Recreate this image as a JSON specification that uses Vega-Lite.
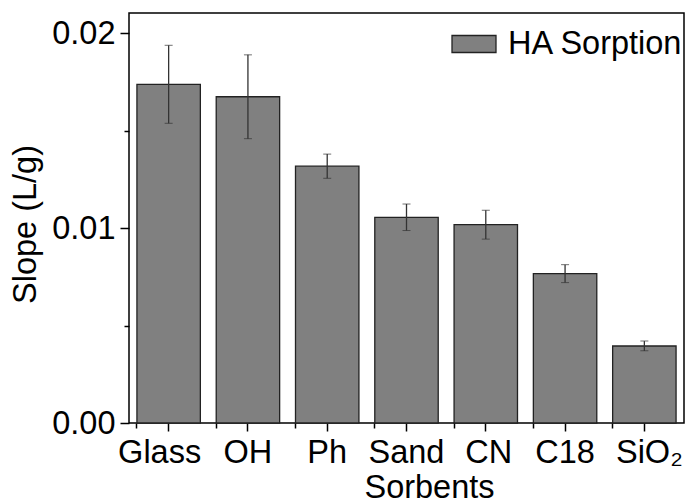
{
  "$schema": "https://vega.github.io/schema/vega-lite/v6.json",
  "width": 555,
  "height": 410,
  "autosize": {"type": "none"},
  "padding": {"left": 129, "top": 13, "right": 2, "bottom": 80},
  "background": "white",
  "config": {
    "font": "Liberation Sans",
    "view": {"stroke": "#000000", "strokeWidth": 1.5},
    "axis": {
      "domain": false,
      "grid": false,
      "tickColor": "#000000",
      "tickWidth": 1.5,
      "labelColor": "#000000",
      "labelFont": "Liberation Sans",
      "labelFontSize": 32.5,
      "titleColor": "#000000",
      "titleFont": "Liberation Sans",
      "titleFontSize": 32.5,
      "titleFontWeight": "normal"
    }
  },
  "data": {
    "values": [
      {"sorbent": "Glass", "slope": 0.01737, "err": 0.00200, "series": "HA Sorption"},
      {"sorbent": "OH", "slope": 0.01673, "err": 0.00215, "series": "HA Sorption"},
      {"sorbent": "Ph", "slope": 0.01317, "err": 0.00062, "series": "HA Sorption"},
      {"sorbent": "Sand", "slope": 0.01055, "err": 0.00068, "series": "HA Sorption"},
      {"sorbent": "CN", "slope": 0.01017, "err": 0.00074, "series": "HA Sorption"},
      {"sorbent": "C18", "slope": 0.00766, "err": 0.00046, "series": "HA Sorption"},
      {"sorbent": "SiO₂", "slope": 0.00395, "err": 0.00025, "series": "HA Sorption"}
    ]
  },
  "resolve": {"axis": {"x": "independent", "y": "independent"}},
  "layer": [
    {
      "mark": {"type": "bar", "stroke": "#222222", "strokeWidth": 1.3},
      "encoding": {
        "x": {
          "field": "sorbent",
          "type": "nominal",
          "sort": null,
          "scale": {"paddingInner": 0.2, "paddingOuter": 0.1},
          "axis": {
            "orient": "bottom",
            "title": "Sorbents",
            "labelAngle": 0,
            "tickSize": 8,
            "labelPadding": 5,
            "labelOffset": {
              "condition": [
                {"test": "datum.value === 'Glass'", "value": -9},
                {"test": "datum.value === 'CN'", "value": 3},
                {"test": "datum.value === 'SiO₂'", "value": 5}
              ],
              "value": 0
            },
            "titleX": 300,
            "titleY": 74,
            "titleAlign": "center",
            "titleBaseline": "alphabetic"
          }
        },
        "y": {
          "field": "slope",
          "type": "quantitative",
          "scale": {"domain": [0, 0.021026], "nice": false, "zero": true},
          "axis": {
            "orient": "left",
            "title": "Slope (L/g)",
            "values": [0, 0.01, 0.02],
            "format": ".2f",
            "tickSize": 9,
            "labelPadding": 5,
            "titleAngle": 270,
            "titleX": -94,
            "titleY": 211,
            "titleAlign": "center",
            "titleBaseline": "alphabetic"
          }
        },
        "fill": {
          "field": "series",
          "type": "nominal",
          "scale": {"range": ["#808080"]},
          "legend": {
            "title": null,
            "orient": "none",
            "legendX": 322,
            "legendY": 8,
            "padding": 0,
            "symbolType": "M-1,-0.386H1V0.386H-1Z",
            "symbolSize": 1936,
            "symbolStrokeColor": "#222222",
            "symbolStrokeWidth": 1.3,
            "symbolOpacity": 1,
            "labelFont": "Liberation Sans",
            "labelFontSize": 32.5,
            "labelColor": "#000000",
            "labelOffset": 11,
            "labelLimit": 400
          }
        }
      }
    },
    {
      "mark": {
        "type": "errorbar",
        "ticks": {"size": 8, "color": "#333333", "strokeWidth": 1.3},
        "rule": {"color": "#333333", "strokeWidth": 1.3}
      },
      "encoding": {
        "x": {
          "field": "sorbent",
          "type": "nominal",
          "sort": null,
          "axis": {
            "orient": "bottom",
            "title": null,
            "labels": false,
            "bandPosition": 0,
            "tickSize": 5
          }
        },
        "y": {
          "field": "slope",
          "type": "quantitative",
          "axis": {
            "orient": "left",
            "title": null,
            "labels": false,
            "values": [0.005, 0.015],
            "tickSize": 5
          }
        },
        "yError": {"field": "err"}
      }
    }
  ]
}
